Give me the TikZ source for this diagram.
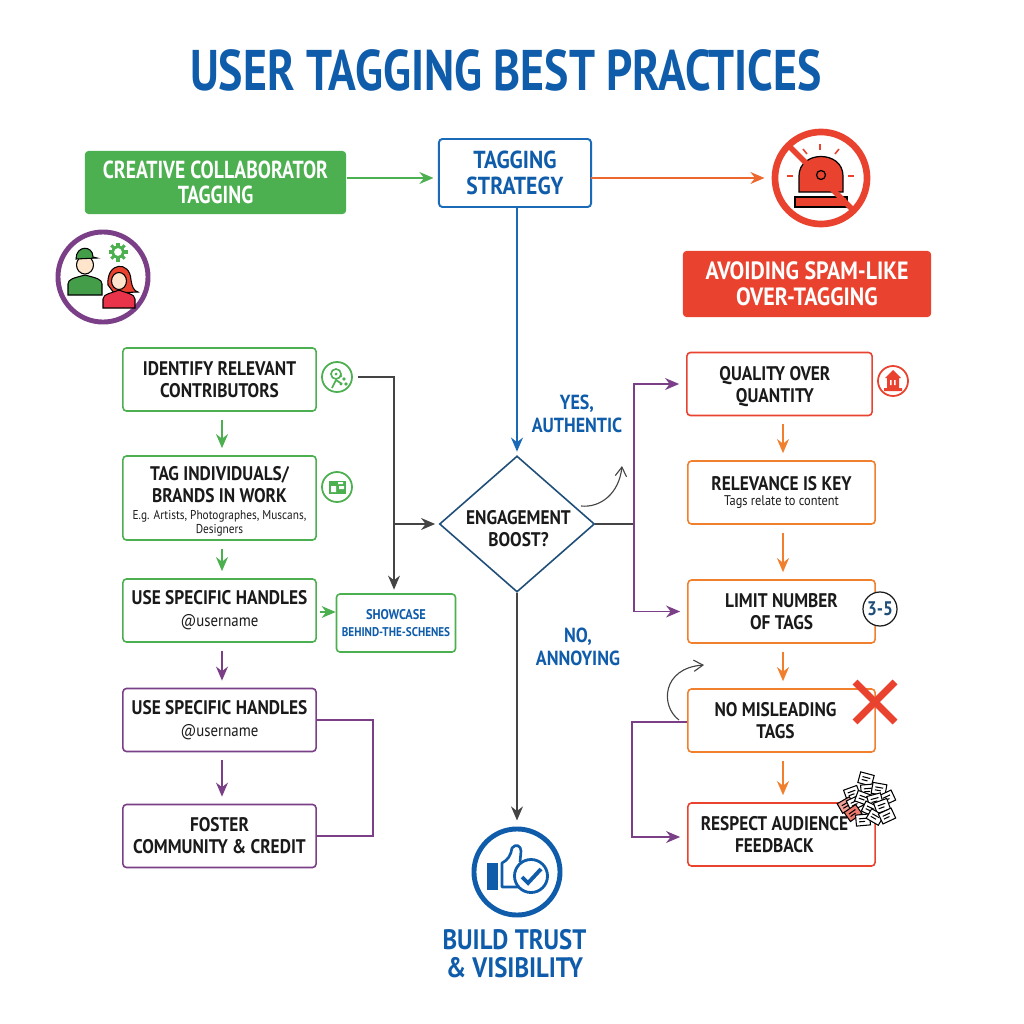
\documentclass[tikz,border=0pt]{standalone}
\usepackage{fontspec}
\setmainfont[FakeStretch=0.88]{PT Sans}
\newfontfamily\narrowfont[FakeStretch=0.8]{PT Sans}
\usetikzlibrary{arrows.meta,shapes.geometric}
\definecolor{greenmain}{HTML}{4CAF50}
\definecolor{redmain}{HTML}{E9432F}
\definecolor{orangemain}{HTML}{F07F2E}
\definecolor{purplemain}{HTML}{7B3F87}
\definecolor{bluemain}{HTML}{0F5CAB}
\definecolor{blueline}{HTML}{1B6AB8}
\definecolor{navymain}{HTML}{1F4E79}
\definecolor{graymain}{HTML}{444444}
\definecolor{textmain}{HTML}{1A1A1A}
\begin{document}
\begin{tikzpicture}
[x=0.01cm,y=-0.01cm,
  stepbox/.style={shape=rectangle,rounded corners=1pt,line width=0.45pt,fill=white,
    minimum width=1.93cm,minimum height=0.63cm,inner sep=0pt,align=center,text=textmain,
    font=\fontsize{5.6}{6.3}\selectfont\bfseries},
  headbox/.style={shape=rectangle,rounded corners=1pt,inner sep=0pt,align=center,text=white,
    font=\fontsize{7.1}{7.4}\selectfont\bfseries},
  bluetext/.style={align=center,text=bluemain,inner sep=0pt,
    font=\fontsize{5.8}{6.5}\selectfont\bfseries},
  iconring/.style={shape=circle,draw=#1,fill=white,line width=0.5pt,minimum size=0.3cm,inner sep=0pt},
  flow/.style={-{Stealth[length=4pt,width=3.4pt]},line width=0.4pt,shorten >=1pt},
  plainline/.style={line width=0.4pt},
  thinarc/.style={-{Straight Barb[length=2.6pt,width=3.2pt]},line width=0.32pt,color=graymain}]
\useasboundingbox (0,0) rectangle (1024,1024);
%% title
\node (title) at (506,70) [text=bluemain,font=\narrowfont\fontsize{16.3}{18}\selectfont\bfseries] {USER TAGGING BEST PRACTICES};
%% header boxes
\node (creative) at (215.5,182.5) [headbox,fill=greenmain,minimum width=2.61cm,minimum height=0.63cm,font=\narrowfont\fontsize{7}{7.2}\selectfont\bfseries] {CREATIVE COLLABORATOR\\TAGGING};
\node (avoiding) at (807,284) [headbox,fill=redmain,minimum width=2.48cm,minimum height=0.66cm] {AVOIDING SPAM-LIKE\\OVER-TAGGING};
\node (strategy) at (515,173) [stepbox,draw=blueline,line width=0.55pt,text=bluemain,minimum width=1.52cm,minimum height=0.68cm,font=\fontsize{7}{7.2}\selectfont\bfseries] {TAGGING\\STRATEGY};
\coordinate (sirenstop) at (768,178);
%% left column
\foreach \nodename/\x/\y/\boxcolor/\boxtext in {
  identify/219.5/379.5/greenmain/{IDENTIFY RELEVANT\\CONTRIBUTORS},
  handlesone/219.5/610.5/greenmain/{USE SPECIFIC HANDLES\\{\fontsize{4.8}{6}\selectfont\mdseries @username}},
  handlestwo/219.5/720/purplemain/{USE SPECIFIC HANDLES\\{\fontsize{4.8}{6}\selectfont\mdseries @username}},
  foster/219.5/836/purplemain/{FOSTER\\COMMUNITY \& CREDIT}} {
  \node (\nodename) at (\x,\y) [stepbox,draw=\boxcolor] {\boxtext};
}
\node (individuals) at (219.5,498) [stepbox,draw=greenmain,minimum height=0.84cm] {\rule{0pt}{5.7pt}TAG INDIVIDUALS/\\BRANDS IN WORK\\[-1.4pt]{\fontsize{3.65}{4.2}\selectfont\mdseries E.g. Artists, Photographes, Muscans,}\\[-2.4pt]{\fontsize{3.65}{4.2}\selectfont\mdseries Designers}};
\node (showcase) at (396,623) [stepbox,draw=greenmain,minimum width=1.19cm,minimum height=0.58cm,text=bluemain,font=\fontsize{3.6}{5}\selectfont\bfseries] {{\fontsize{4}{5}\selectfont SHOWCASE}\\BEHIND-THE-SCHENES};
%% right column
\node (quality) at (779.5,384) [stepbox,draw=redmain,minimum width=1.85cm] {\rule{0pt}{5.4pt}QUALITY OVER\hspace*{2.6pt}\\QUANTITY\hspace*{2.6pt}};
\foreach \nodename/\x/\y/\boxcolor/\boxtext in {
  limit/781.5/611.5/orangemain/{LIMIT NUMBER\\OF TAGS},
  misleading/781.5/720.5/orangemain/{NO MISLEADING\hspace*{3.4pt}\\TAGS\hspace*{3.4pt}},
  respect/781.5/834.5/redmain/{RESPECT AUDIENCE\hspace*{4pt}\\FEEDBACK\hspace*{4pt}}} {
  \node (\nodename) at (\x,\y) [stepbox,draw=\boxcolor,minimum width=1.87cm] {\boxtext};
}
\node (relevance) at (781.5,492.5) [stepbox,draw=orangemain,minimum width=1.87cm] {RELEVANCE IS KEY\\[-1.9pt]{\fontsize{4}{4.2}\selectfont\mdseries Tags relate to content}};
%% decision
\node (boost) at (517,524) [shape=diamond,draw=navymain,line width=0.45pt,fill=white,minimum width=1.55cm,minimum height=1.36cm,inner sep=0pt,aspect=1.14] {};
\node (boosttext) at (518.5,529) [align=center,inner sep=0pt,text=textmain,font=\fontsize{5.6}{6.2}\selectfont\bfseries] {ENGAGEMENT\\BOOST?};
\node (yeslabel) at (577,414) [bluetext] {YES,\\AUTHENTIC};
\node (nolabel) at (578,646.5) [bluetext] {NO,\\ANNOYING};
%% icons
\node (identifyicon) at (337,377) [iconring=greenmain] {};
\node (individualsicon) at (337,487) [iconring=greenmain] {};
\node (qualityicon) at (893,381) [iconring=redmain] {};
\node (limiticon) at (880,609) [shape=circle,draw=textmain,fill=white,line width=0.35pt,minimum size=0.34cm,inner sep=0pt,text=navymain,font=\fontsize{5.6}{5.6}\selectfont\bfseries] {3-5};
\node (trusticon) at (517,872) [shape=circle,draw=bluemain,line width=1.4pt,minimum size=0.86cm,inner sep=0pt] {};
\node (trustlabel) at (514.5,954) [bluetext,font=\fontsize{8}{8}\selectfont\bfseries] {BUILD TRUST\\\& VISIBILITY};
\coordinate (trusttop) at (517,824);
\coordinate (junctionleft) at (394,524);
\coordinate (junctionright) at (634,524);
%% connectors
\draw[flow,color=greenmain] (creative.east |- strategy.east) ++(0,5) -- (437,178);
\draw[flow,color=orangemain!60!redmain] (591,178) -- (sirenstop);
\draw[flow,color=blueline,line width=0.55pt] (strategy.south -| boost.north) -- (boost.north);
\draw[plainline,color=graymain] (identifyicon.east) ++(5,0) -| (junctionleft);
\draw[flow,color=graymain] (junctionleft) -- (junctionleft |- showcase.north);
\draw[flow,color=graymain] (junctionleft) -- (boost.west);
\draw[flow,color=graymain] (boost.south) -- (trusttop);
\draw[plainline,color=graymain] (boost.east) -- (junctionright);
\draw[flow,color=purplemain,shorten >=2pt] (junctionright) |- (quality.west);
\draw[flow,color=purplemain,shorten >=2pt] (junctionright) |- (limit.west);
\draw[plainline,color=purplemain] (handlestwo.east) -- ++(56,0) |- (foster.east);
\draw[flow,color=purplemain,shorten >=2pt] ([yshift=-0.015cm]misleading.west) -- ++(-55,0) |- ([yshift=-0.025cm]respect.west);
\draw[flow,color=greenmain,shorten >=0pt] (handlesone.east) ++(3,1.5) -- (showcase.west |- 0,612);
\foreach \startnode/\endnode/\linecolor in {identify/individuals/greenmain,individuals/handlesone/greenmain,handlesone/handlestwo/purplemain,handlestwo/foster/purplemain} {
  \draw[flow,color=\linecolor,shorten <=2.2pt,shorten >=2pt] ([xshift=0.025cm]\startnode.south) -- ([xshift=0.025cm]\endnode.north);
}
\foreach \startnode/\endnode in {quality/relevance,relevance/limit,limit/misleading,misleading/respect} {
  \draw[flow,color=orangemain,shorten <=2.2pt,shorten >=2pt] (\startnode.south -| 783,0) -- (\endnode.north -| 783,0);
}
\draw[thinarc] (581,506) .. controls (600,508) and (619,494) .. (622,466);
\draw[thinarc] (679,720) .. controls (660,706) and (662,668) .. (704,665);
%% people icon
\draw[purplemain,line width=1.4pt,fill=white] (103,277) circle (0.45cm);
\begin{scope}[draw=black,line width=0.3pt]
  \filldraw[fill=greenmain!90!black] (68,295) -- (68,284) .. controls (68,279) and (74,278) .. (85,275) .. controls (96,278) and (102,279) .. (102,284) -- (102,295) -- cycle;
  \filldraw[fill=orange!20] (85,265) ellipse (0.085cm and 0.09cm);
  \filldraw[fill=greenmain!90!black] (76,259) .. controls (76,245) and (93,245) .. (93,257) -- (97,258) -- cycle;
  \filldraw[fill=redmain] (108,285) .. controls (106,262) and (130,260) .. (131,280) .. controls (132,287) and (134,291) .. (138,292) -- (114,293) -- cycle;
  \filldraw[fill=red!55!purple!80] (103,308) -- (103,299) .. controls (103,294) and (112,293) .. (119,290) .. controls (126,293) and (135,294) .. (135,299) -- (135,308) -- cycle;
  \filldraw[fill=orange!20] (119,281) ellipse (0.075cm and 0.085cm);
\end{scope}
\foreach \gearangle in {0,45,...,315} {
  \draw[greenmain,line width=0.9pt] (118,252) -- ++(\gearangle:9.5);
}
\draw[greenmain,line width=0.8pt,fill=white] (118,252) circle (0.055cm);
%% siren icon
\draw[redmain,line width=1.9pt,fill=white] (821,178) circle (0.46cm);
\filldraw[fill=redmain,draw=black,line width=0.35pt] (799,192) -- (799,176) .. controls (799,150) and (843,150) .. (843,176) -- (843,192) -- cycle;
\filldraw[fill=redmain,draw=black,line width=0.35pt] (795,197) rectangle (847,207);
\foreach \rayx/\rayy/\rayxx/\rayyy in {787/176/793/176,848/176/854/176,820/144/820/150,803/149/807/154,839/149/835/154} {
  \draw[redmain,line width=0.45pt] (\rayx,\rayy) -- (\rayxx,\rayyy);
}
\draw[redmain,line width=1.6pt] (788,145) -- (853,210);
\draw[black,line width=0.35pt,fill=redmain] (821,175) circle (0.045cm);
%% thumb icon
\fill[bluemain] (487,863) rectangle (498,890);
\draw[bluemain,line width=0.75pt,line join=round] (520,887) -- (502,887) -- (502,863) .. controls (508,860) and (511,855) .. (512,848) .. controls (516,843) and (521,846) .. (521,851) -- (520,862);
\draw[bluemain,line width=0.8pt,fill=white] (531,876) circle (0.165cm);
\draw[bluemain,line width=1.1pt] (522,877) -- (528,883) -- (541,869);
%% small icons
\draw[greenmain,line width=0.45pt] (336,374) circle (0.05cm);
\fill[greenmain] (336,374) circle (0.015cm);
\draw[greenmain,line width=0.5pt] (336,380) -- (332,388) (336,380) -- (342,384);
\fill[greenmain] (344,379) circle (0.019cm) (341,376) circle (0.014cm) (346,384) circle (0.019cm) (341,384) circle (0.016cm);
\fill[greenmain] (329,481) rectangle (346,494);
\fill[white] (331,486) rectangle (336,492) (339,486) rectangle (344,489) (338,482) rectangle (343,484);
\fill[redmain] (893,370) -- (901,378) -- (899,378) -- (899,388) -- (902,388) -- (902,391) -- (884,391) -- (884,388) -- (887,388) -- (887,378) -- (885,378) -- cycle;
\fill[white] (890,380) rectangle (891.5,385) (894,380) rectangle (895.5,385);
%% cross
\draw[redmain,line width=2pt] (855,682) -- (895,722) (895,682) -- (855,722);
%% tag pile
\foreach \tagx/\tagy/\tagangle/\tagfill in {866/779/-15/white,852/793/20/white,868/790/5/white,879/789/-10/white,887/798/25/white,846/805/30/redmain!50,855/803/25/white,863/798/-20/white,875/800/15/white,853/813/35/redmain!70,870/809/-25/white,882/806/20/white,863/820/5/white,875/817/-30/white,887/816/25/white} {
  \node (tag\tagx\tagy) at (\tagx,\tagy) [shape=rectangle,draw=black,fill=\tagfill,line width=0.3pt,rotate=\tagangle,minimum width=0.14cm,minimum height=0.11cm,inner sep=0pt] {};
  \draw[black,line width=0.3pt,rotate around={\tagangle:(\tagx,\tagy)}] (\tagx-4,\tagy-1.5) -- (\tagx+4,\tagy-1.5) (\tagx-4,\tagy+1.5) -- (\tagx+2,\tagy+1.5);
}
\end{tikzpicture}
\end{document}
